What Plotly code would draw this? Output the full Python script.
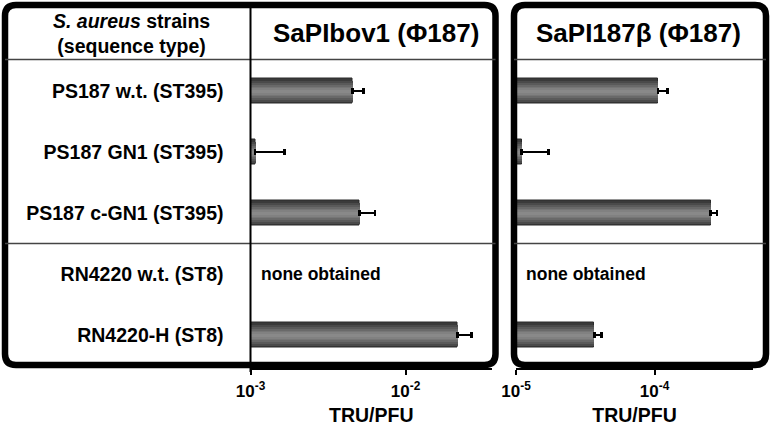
import plotly.graph_objects as go

# ---------------- data ----------------
strains = ["PS187 w.t. (ST395)", "PS187 GN1 (ST395)", "PS187 c-GN1 (ST395)",
           "RN4220 w.t. (ST8)", "RN4220-H (ST8)"]
sapibov1 = [0.00454, 0.00107, 0.00504, None, 0.0217]
sapibov1_err = [0.00081, 0.00059, 0.00132, None, 0.0050]
sapi187b = [1.06e-4, 1.10e-5, 2.54e-4, None, 3.67e-5]
sapi187b_err = [0.18e-4, 0.61e-5, 0.29e-4, None, 0.48e-5]
left_ticks = [1e-3, 1e-2]
left_ticktext = ["10<sup>-3</sup>", "10<sup>-2</sup>"]
right_ticks = [1e-5, 1e-4]
right_ticktext = ["10<sup>-5</sup>", "10<sup>-4</sup>"]
none_label = "none obtained"
panel_titles = ["SaPIbov1 (Φ187)", "SaPI187β (Φ187)"]
header = "<i>S. aureus</i> strains<br>(sequence type)"
axis_title = "TRU/PFU"

W, H = 771, 426
FONT = "Liberation Sans, Arial, sans-serif"


def px(x):
    return x / W


def py(y):
    return 1 - y / H


def rounded_rect(x0, y0, x1, y1, r):
    rx, ry = r / W, r / H
    X0, X1 = px(x0), px(x1)
    Y0, Y1 = py(y0), py(y1)  # Y0 top (larger), Y1 bottom
    return (f"M {X0+rx},{Y0} L {X1-rx},{Y0} Q {X1},{Y0} {X1},{Y0-ry} "
            f"L {X1},{Y1+ry} Q {X1},{Y1} {X1-rx},{Y1} "
            f"L {X0+rx},{Y1} Q {X0},{Y1} {X0},{Y1+ry} "
            f"L {X0},{Y0-ry} Q {X0},{Y0} {X0+rx},{Y0} Z")


fig = go.Figure()

# layered bars to imitate the cylindrical shading
layers = [(0.40, "#3a3a3a"), (0.34, "#4a4a4a"), (0.28, "#5a5a5a"),
          (0.22, "#696969"), (0.16, "#767676"), (0.10, "#818181"), (0.05, "#898989")]
for vals, errs, xa, ya in [(sapibov1, sapibov1_err, "x", "y"),
                           (sapi187b, sapi187b_err, "x2", "y2")]:
    for i, (w, c) in enumerate(layers):
        last = i == len(layers) - 1
        fig.add_trace(go.Bar(
            x=vals, y=strains, orientation="h", xaxis=xa, yaxis=ya,
            width=w, marker=dict(color=c,
                                 line=dict(color="#2a2a2a", width=1 if i == 0 else 0)),
            error_x=dict(type="data", symmetric=False, array=errs,
                         arrayminus=[0 if e is not None else None for e in errs],
                         color="black", thickness=2.5, width=3, visible=last),
            showlegend=False, hoverinfo="skip"))

fig.update_layout(
    width=W, height=H, autosize=False,
    margin=dict(l=0, r=0, t=0, b=0, pad=0, autoexpand=False),
    paper_bgcolor="white", plot_bgcolor="rgba(0,0,0,0)",
    barmode="overlay", bargap=0,
    font=dict(family=FONT, color="black"),
)

ydom = [py(368), py(59.5)]
yrange = [4.541, -0.516]
fig.update_layout(
    xaxis=dict(domain=[px(250.5), px(492)], type="log", range=[-3, -1.442],
               anchor="y", showgrid=False, zeroline=False, automargin=False,
               showline=True, linecolor="black", linewidth=2,
               ticks="outside", ticklen=5, tickwidth=1.5, tickcolor="black",
               ticklabelstandoff=2,
               tickvals=left_ticks, ticktext=left_ticktext,
               tickfont=dict(size=17, family=FONT, weight="bold"),
               title=dict(text=axis_title, standoff=15,
                          font=dict(size=19.5, family=FONT, weight="bold"))),
    xaxis2=dict(domain=[px(516), px(753)], type="log", range=[-5, -3.29],
                anchor="y2", showgrid=False, zeroline=False, automargin=False,
                showline=True, linecolor="black", linewidth=2,
                ticks="outside", ticklen=5, tickwidth=1.5, tickcolor="black",
                ticklabelstandoff=2,
                tickvals=right_ticks, ticktext=right_ticktext,
                tickfont=dict(size=17, family=FONT, weight="bold"),
                title=dict(text=axis_title, standoff=15,
                           font=dict(size=19.5, family=FONT, weight="bold"))),
    yaxis=dict(domain=ydom, type="category", categoryorder="array",
               categoryarray=strains, range=yrange, anchor="x",
               showgrid=False, zeroline=False, showline=False, automargin=False,
               ticks="", ticklabelstandoff=26,
               tickfont=dict(size=19.5, family=FONT, weight="bold")),
    yaxis2=dict(domain=ydom, type="category", categoryorder="array",
                categoryarray=strains, range=yrange, anchor="x2",
                showgrid=False, zeroline=False, showline=False, automargin=False,
                showticklabels=False, ticks=""),
)

shapes = []
# frames
shapes.append(dict(type="path", xref="paper", yref="paper",
                   path=rounded_rect(5, 5, 495.5, 365, 11),
                   line=dict(color="black", width=6.5), layer="above"))
shapes.append(dict(type="path", xref="paper", yref="paper",
                   path=rounded_rect(514, 5, 766, 365, 11),
                   line=dict(color="black", width=6.5), layer="above"))
# header / group separators
for yy in (59.5, 243.5):
    for (a, b) in ((5, 495.5), (514, 766)):
        shapes.append(dict(type="line", xref="paper", yref="paper",
                           x0=px(a), x1=px(b), y0=py(yy), y1=py(yy),
                           line=dict(color="#444444", width=1.3), layer="above"))
# vertical divider / y axis line of left panel
shapes.append(dict(type="line", xref="paper", yref="paper",
                   x0=px(250.5), x1=px(250.5), y0=py(5), y1=py(372),
                   line=dict(color="black", width=2), layer="above"))
fig.update_layout(shapes=shapes)

ann = []
ann.append(dict(text=header, xref="paper", yref="paper", x=px(131), y=py(33.5),
                showarrow=False, xanchor="center", yanchor="middle",
                font=dict(size=19.5, family=FONT, weight="bold")))
ann.append(dict(text=panel_titles[0], xref="paper", yref="paper", x=px(376), y=py(33),
                showarrow=False, xanchor="center", yanchor="middle",
                font=dict(size=26, family=FONT, weight="bold")))
ann.append(dict(text=panel_titles[1], xref="paper", yref="paper", x=px(638.7), y=py(33),
                showarrow=False, xanchor="center", yanchor="middle",
                font=dict(size=26, family=FONT, weight="bold")))
# "none obtained" for missing values
for vals, xd, yd in [(sapibov1, "x domain", "y"), (sapi187b, "x2 domain", "y2")]:
    for s, v in zip(strains, vals):
        if v is None:
            ann.append(dict(text=none_label, xref=xd, yref=yd, x=0.035, y=s,
                            showarrow=False, xanchor="left", yanchor="middle",
                            font=dict(size=17.5, family=FONT, weight="bold")))
fig.update_layout(annotations=ann)

fig.write_html("out.html",
               config={"displayModeBar": False},
               post_script="document.body.style.margin='0';")
